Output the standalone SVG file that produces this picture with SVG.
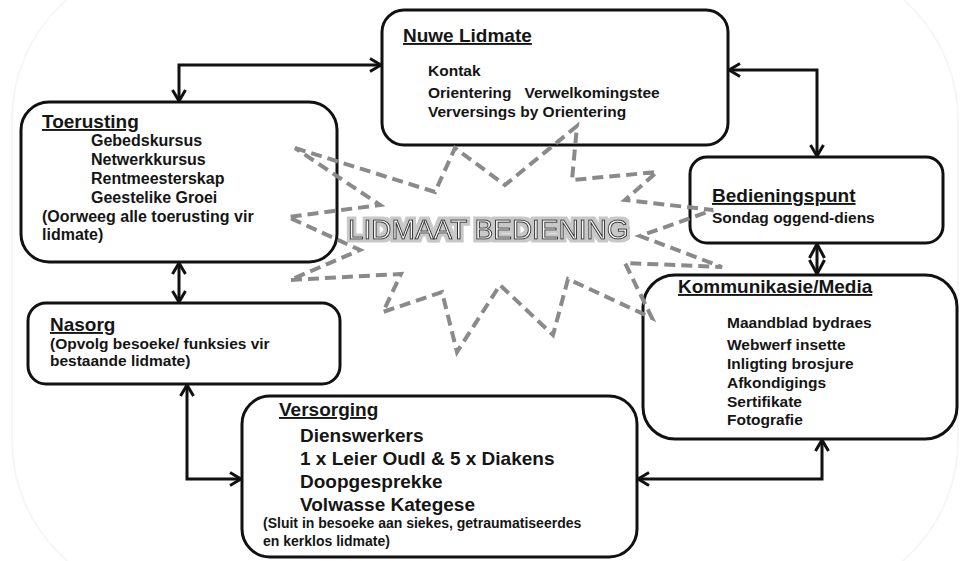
<svg xmlns="http://www.w3.org/2000/svg" width="964" height="561" viewBox="0 0 964 561">
<defs>
<style>
.box{fill:#fff;stroke:#111;stroke-width:3}
.t{font-family:"Liberation Sans",Arial,sans-serif;font-weight:bold;fill:#151515}
.h{font-size:19px;text-decoration:underline}
.b{font-size:15.5px}
.b16{font-size:16px}
.b19{font-size:19px}
.b14{font-size:14px}
.con{fill:none;stroke:#111;stroke-width:3}
.star{fill:none;stroke:#8a8a8a;stroke-width:4;stroke-dasharray:11 6}
.big{font-family:"Liberation Sans",Arial,sans-serif;font-size:28px;fill:#fafafa;stroke:#333;stroke-width:1}
</style>
<marker id="arr" viewBox="0 0 14 16" refX="12" refY="8" markerWidth="14" markerHeight="16" markerUnits="userSpaceOnUse" orient="auto-start-reverse">
<path d="M1,1.5 L12,8 L1,14.5" fill="none" stroke="#111" stroke-width="3"/>
</marker>
<marker id="dia" viewBox="0 0 16 18" refX="15" refY="9" markerWidth="16" markerHeight="18" markerUnits="userSpaceOnUse" orient="auto-start-reverse">
<path d="M1,1.5 L15,9 L1,16.5" fill="none" stroke="#111" stroke-width="3"/>
</marker>
<filter id="halo" x="-5%" y="-30%" width="110%" height="160%">
<feMorphology in="SourceAlpha" operator="dilate" radius="2.5" result="d"/>
<feFlood flood-color="#c8c8c8"/>
<feComposite in2="d" operator="in" result="g"/>
<feMerge><feMergeNode in="g"/><feMergeNode in="SourceGraphic"/></feMerge>
</filter>
</defs>
<rect width="964" height="561" fill="#fff"/>
<rect x="12" y="-40" width="946" height="640" rx="160" fill="none" stroke="#f6f6f6" stroke-width="2"/>

<g id="nuwe-lidmate">
<rect class="box" x="382" y="10" width="346" height="135" rx="22"/>
<text class="t h" x="403" y="42">Nuwe Lidmate</text>
<text class="t b" x="428" y="76">Kontak</text>
<text class="t b" x="428" y="98" xml:space="preserve">Orientering   Verwelkomingstee</text>
<text class="t b" x="428" y="117">Verversings by Orientering</text>
</g>

<g id="toerusting">
<rect class="box" x="21" y="102" width="316" height="160" rx="28"/>
<text class="t h" x="42" y="128">Toerusting</text>
<text class="t b16" x="91" y="146">Gebedskursus</text>
<text class="t b16" x="91" y="165">Netwerkkursus</text>
<text class="t b16" x="91" y="184">Rentmeesterskap</text>
<text class="t b16" x="91" y="203">Geestelike Groei</text>
<text class="t b16" x="42" y="222">(Oorweeg alle toerusting vir</text>
<text class="t b16" x="42" y="240">lidmate)</text>
</g>

<g id="bedieningspunt">
<rect class="box" x="690" y="157" width="253" height="86" rx="17"/>
<text class="t h" x="712" y="202">Bedieningspunt</text>
<text class="t b" x="712" y="223">Sondag oggend-diens</text>
</g>

<g id="kommunikasie-media">
<rect class="box" x="643" y="275" width="314" height="164" rx="32"/>
<text class="t h" x="678" y="293">Kommunikasie/Media</text>
<text class="t b" x="727" y="328">Maandblad bydraes</text>
<text class="t b" x="727" y="350">Webwerf insette</text>
<text class="t b" x="727" y="369">Inligting brosjure</text>
<text class="t b" x="727" y="388">Afkondigings</text>
<text class="t b" x="727" y="407">Sertifikate</text>
<text class="t b" x="727" y="425">Fotografie</text>
</g>

<g id="nasorg">
<rect class="box" x="28" y="303" width="312" height="81" rx="18"/>
<text class="t h" x="50" y="331">Nasorg</text>
<text class="t b" x="50" y="349">(Opvolg besoeke/ funksies vir</text>
<text class="t b" x="50" y="366">bestaande lidmate)</text>
</g>

<g id="versorging">
<rect class="box" x="242" y="396" width="395" height="161" rx="28"/>
<text class="t h" x="279" y="416">Versorging</text>
<text class="t b19" x="300" y="442">Dienswerkers</text>
<text class="t b19" x="300" y="465">1 x Leier Oudl &amp; 5 x Diakens</text>
<text class="t b19" x="300" y="488">Doopgesprekke</text>
<text class="t b19" x="300" y="511">Volwasse Kategese</text>
<text class="t b14" x="263" y="528">(Sluit in besoeke aan siekes, getraumatiseerdes</text>
<text class="t b14" x="263" y="546">en kerklos lidmate)</text>
</g>

<g id="lidmaat-bediening">
<polygon class="star" points="295,148 435,192 455,148 505,185 577,126 572,180 657,172 625,200 713,210 640,236 722,267 625,263 652,318 568,279 553,335 500,285 457,352 442,292 383,312 401,274 290,280 360,250 288,217 380,205"/>
<text class="big" x="348" y="239" filter="url(#halo)">LIDMAAT BEDIENING</text>
</g>

<g id="connectors">
<path class="con" d="M381,65 H179 V101" marker-start="url(#arr)" marker-end="url(#arr)"/>
<path class="con" d="M729,70 H817 V156" marker-start="url(#arr)" marker-end="url(#arr)"/>
<path class="con" d="M817,244 V274" marker-start="url(#dia)" marker-end="url(#dia)"/>
<path class="con" d="M179,263 V302" marker-start="url(#arr)" marker-end="url(#arr)"/>
<path class="con" d="M187,385 V479 H241" marker-start="url(#arr)" marker-end="url(#arr)"/>
<path class="con" d="M638,479 H822 V440" marker-start="url(#arr)" marker-end="url(#arr)"/>
</g>
</svg>
